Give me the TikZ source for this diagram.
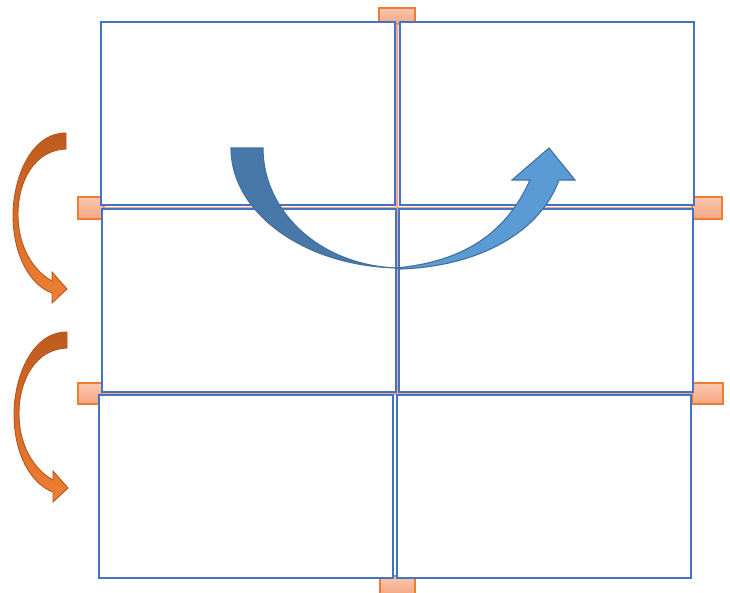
\documentclass[tikz,border=0pt]{standalone}
\usetikzlibrary{positioning}
\definecolor{frame}{HTML}{4472C4}
\definecolor{tabline}{HTML}{ED7D31}
\definecolor{tabtop}{HTML}{F9C6AE}
\definecolor{tabbot}{HTML}{F5A783}
\definecolor{oradark}{HTML}{BE5A1E}
\definecolor{oralight}{HTML}{F07F33}
\definecolor{oraline}{HTML}{B3571F}
\definecolor{turnback}{HTML}{4878A8}
\definecolor{turnfront}{HTML}{5B9BD5}
\definecolor{turnline}{HTML}{41719C}
\tikzset{
  panel/.style={draw=frame,line width=2.7pt,fill=white,minimum width=294pt,minimum height=183pt,inner sep=0pt,outer sep=0pt},
  tab/.style={draw=tabline,line width=1.4pt,top color=tabtop,bottom color=tabbot,inner sep=0pt,outer sep=0pt},
  seam/.style={draw=tabbot,line width=2.5pt},
  flip/.style={draw=oraline,line width=0.9pt,top color=oradark,bottom color=oralight},
  turnb/.style={draw=turnline,line width=1.1pt,fill=turnback},
  turnf/.style={draw=turnline,line width=1.1pt,fill=turnfront},
}

\begin{document}
\begin{tikzpicture}[x=1pt,y=-1pt]
\useasboundingbox (0,0) rectangle (730,592);
% tabs and cut lines
\node[tab,minimum width=36pt,minimum height=16pt] (ttop) at (397,16) {};
\node[tab,minimum width=35pt,minimum height=18pt] (tbot) at (397.5,585) {};
\node[tab,minimum width=26pt,minimum height=22pt] (lu) at (91,208) {};
\node[tab,minimum width=30pt,minimum height=22pt] (ru) at (707,208) {};
\node[tab,minimum width=24pt,minimum height=21pt] (ll) at (90,393.5) {};
\node[tab,minimum width=31pt,minimum height=21pt] (rl) at (707.5,393.5) {};
\draw[seam] (ttop) -- (tbot);
\draw[seam] (lu) -- (ru);
\draw[seam] (ll) -- (rl);
% six panels
\node[panel] (tl) at (248,113.5) {};
\node[panel] (tr) at (547,113.5) {};
\node[panel] (ml) at (249,300.5) {};
\node[panel] (mr) at (546,300.5) {};
\node[panel] (bl) at (246,486.5) {};
\node[panel] (br) at (544,486.5) {};
% fold arrows
\foreach \dx/\dy in {0/0,1/199}{
  \begin{scope}[shift={(\dx,\dy)}]
    \draw[flip] (66,133) .. controls (30,133) and (13,180) .. (13,215)
      .. controls (13,255) and (30,285) .. (52,293) -- (52,303) -- (67,289)
      -- (52,272) -- (52,281) .. controls (32,270) and (18,245) .. (18,215)
      .. controls (18,180) and (35,150) .. (66,149) -- cycle;
  \end{scope}
}
% turn arrow
\draw[turnf] (401,269) .. controls (480,266) and (540,232) .. (559,180)
  -- (575,180) -- (549,148) -- (512,180) -- (530,180)
  .. controls (505,236) and (460,262) .. (396,268) -- cycle;
\draw[turnb] (231,148) -- (263,148) .. controls (263,214) and (324,268) .. (402,268)
  .. controls (307,268) and (231,214) .. (231,148) -- cycle;
\end{tikzpicture}
\end{document}
